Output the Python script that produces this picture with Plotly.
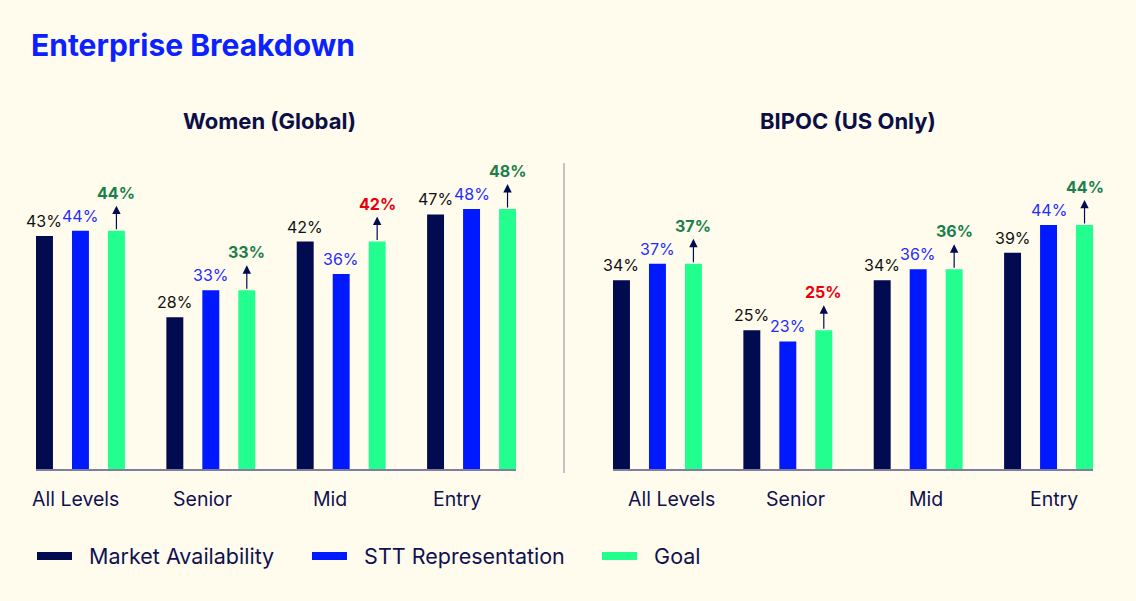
import plotly.graph_objects as go

# ---------------- data ----------------
categories = ["All Levels", "Senior", "Mid", "Entry"]
series_names = ["Market Availability", "STT Representation", "Goal"]

women_market = [43, 28, 42, 47]
women_stt = [44, 33, 36, 48]
women_goal = [44, 33, 42, 48]

bipoc_market = [34, 25, 34, 39]
bipoc_stt = [37, 23, 36, 44]
bipoc_goal = [37, 25, 36, 44]

panel_titles = ["Women (Global)", "BIPOC (US Only)"]
chart_title = "Enterprise Breakdown"

# ---------------- style ----------------
W, H = 1136, 601
BG = "#fffcee"
NAVY = "#020a50"
BLUE = "#0019ff"
GREEN = "#22ff8f"
GOAL_OK = "#1b7f4c"
GOAL_MISS = "#e8000b"
FONT = "Inter"
colors = [NAVY, BLUE, GREEN]
label_colors = ["#111111", "#1f2cff", None]

bar_w = 0.13
offsets = [-0.341, -0.065, 0.211]
xrange_ = [-0.341, 3.341]
y_bottom_px, y_top_px = 469, 150
ydom = [(H - y_bottom_px) / H, (H - y_top_px) / H]
plot_h = y_bottom_px - y_top_px
panels = [
    dict(xd=[36 / W, 516 / W], ymax=58.9, data=[women_market, women_stt, women_goal],
         xa="x", ya="y", tick_shift=[-5, -8, -11, -15]),
    dict(xd=[613 / W, 1093 / W], ymax=57.5, data=[bipoc_market, bipoc_stt, bipoc_goal],
         xa="x2", ya="y2", tick_shift=[14, 8, 8, 5]),
]

fig = go.Figure()
annotations = []

for p_i, p in enumerate(panels):
    px_per_unit = plot_h / p["ymax"]
    arrow_len = 25 / px_per_unit
    for s_i, vals in enumerate(p["data"]):
        fig.add_trace(go.Bar(
            x=categories, y=vals, width=bar_w, offset=offsets[s_i],
            marker=dict(color=colors[s_i], line=dict(width=0)),
            xaxis=p["xa"], yaxis=p["ya"], showlegend=False, hoverinfo="skip",
        ))
        for c_i, v in enumerate(vals):
            xc = c_i + offsets[s_i] + bar_w / 2
            if s_i < 2:
                annotations.append(dict(
                    x=xc, y=v, xref=p["xa"], yref=p["ya"], text=f"{v}%",
                    showarrow=False, yanchor="middle", yshift=15,
                    font=dict(family=FONT, size=16, color=label_colors[s_i]),
                ))
            else:
                stt = p["data"][1][c_i]
                col = GOAL_OK if stt >= v else GOAL_MISS
                annotations.append(dict(
                    x=xc, y=v + arrow_len, ax=xc, ay=v, xref=p["xa"], yref=p["ya"],
                    axref=p["xa"], ayref=p["ya"], text="", showarrow=True,
                    arrowhead=2, arrowsize=1.4, arrowwidth=1.2, arrowcolor=NAVY,
                    standoff=0, startstandoff=0, font=dict(size=1),
                ))
                annotations.append(dict(
                    x=xc, y=v + arrow_len, xref=p["xa"], yref=p["ya"], text=f"<b>{v}%</b>",
                    showarrow=False, yanchor="middle", yshift=13,
                    font=dict(family=FONT, size=16, color=col),
                ))
    # category labels
    for c_i, cat in enumerate(categories):
        annotations.append(dict(
            x=cat, y=0, xref=p["xa"], yref=p["ya"], text=cat, showarrow=False,
            yanchor="middle", yshift=-30, xshift=p["tick_shift"][c_i],
            font=dict(family=FONT, size=19.5, color="#0f1150"),
        ))

# legend-only traces (wide swatches)
for s_i, name in enumerate(series_names):
    fig.add_trace(go.Scatter(
        x=[None], y=[None], mode="lines", name="&nbsp;&nbsp;" + name,
        line=dict(color=colors[s_i], width=8),
        legend="legend" if s_i == 0 else f"legend{s_i + 1}",
        xaxis="x", yaxis="y", hoverinfo="skip",
    ))

annotations.append(dict(
    x=29 / W, y=1 - 45 / H, xref="paper", yref="paper", xanchor="left", yanchor="middle",
    text=f"<b>{chart_title}</b>", showarrow=False,
    font=dict(family=FONT, size=30, color="#0a22ff"),
))
for t, xc in zip(panel_titles, [269.5, 848]):
    annotations.append(dict(
        x=xc / W, y=1 - 121 / H, xref="paper", yref="paper", xanchor="center", yanchor="middle",
        text=f"<b>{t}</b>", showarrow=False,
        font=dict(family=FONT, size=22, color="#0b0f45"),
    ))

axis_common = dict(
    type="category", categoryarray=categories, range=xrange_,
    showgrid=False, zeroline=False, showline=True, linecolor="#7d7f9c", linewidth=2,
    ticks="", showticklabels=False, fixedrange=True,
)
yaxis_common = dict(domain=ydom, showgrid=False, zeroline=False, showline=False,
                    showticklabels=False, ticks="", fixedrange=True)

legend_common = dict(
    orientation="h", yanchor="middle", y=1 - 556 / H, xanchor="left",
    bgcolor="rgba(0,0,0,0)", itemwidth=35,
    font=dict(family=FONT, size=21.5, color="#0f1150"), itemclick=False, itemdoubleclick=False,
)

fig.update_layout(
    width=W, height=H, margin=dict(l=0, r=0, t=0, b=0),
    paper_bgcolor=BG, plot_bgcolor=BG, barmode="overlay",
    xaxis=dict(domain=panels[0]["xd"], anchor="y", **axis_common),
    yaxis=dict(range=[0, panels[0]["ymax"]], anchor="x", **yaxis_common),
    xaxis2=dict(domain=panels[1]["xd"], anchor="y2", **axis_common),
    yaxis2=dict(range=[0, panels[1]["ymax"]], anchor="x2", **yaxis_common),
    legend=dict(x=32 / W, **legend_common),
    legend2=dict(x=307 / W, **legend_common),
    legend3=dict(x=597 / W, **legend_common),
    annotations=annotations,
    shapes=[dict(type="line", xref="paper", yref="paper", x0=564 / W, x1=564 / W,
                 y0=1 - 473 / H, y1=1 - 163 / H, line=dict(color="#c3c3c8", width=2))],
)

fig.write_html("out.html")
